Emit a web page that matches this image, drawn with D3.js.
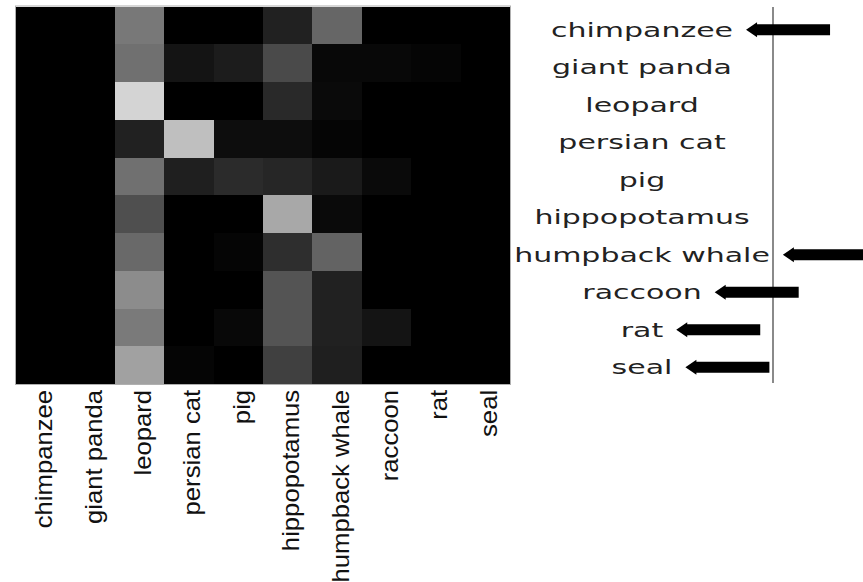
<!DOCTYPE html>
<html>
<head>
<meta charset="utf-8">
<script src="https://cdn.jsdelivr.net/npm/d3@7"></script>
<style>
  html, body { margin: 0; padding: 0; background: #fff; }
  svg { display: block; }
</style>
</head>
<body>
<svg id="chart" width="863" height="582"></svg>
<script>
// Class names, used for both the predicted (rows) and true (columns) axes
const categories = ["chimpanzee", "giant panda", "leopard", "persian cat", "pig",
                    "hippopotamus", "humpback whale", "raccoon", "rat", "seal"];

// Confusion matrix, one row per class (fraction of predictions)
const rowChimpanzee    = [0, 0, 0.47, 0,    0,    0.13, 0.40, 0,    0,    0];
const rowGiantPanda    = [0, 0, 0.44, 0.08, 0.11, 0.29, 0.03, 0.03, 0.02, 0];
const rowLeopard       = [0, 0, 0.83, 0,    0,    0.16, 0.04, 0,    0,    0];
const rowPersianCat    = [0, 0, 0.13, 0.75, 0.05, 0.05, 0.02, 0,    0,    0];
const rowPig           = [0, 0, 0.44, 0.12, 0.17, 0.15, 0.10, 0.04, 0,    0];
const rowHippopotamus  = [0, 0, 0.31, 0,    0,    0.66, 0.04, 0,    0,    0];
const rowHumpbackWhale = [0, 0, 0.41, 0,    0.02, 0.18, 0.39, 0,    0,    0];
const rowRaccoon       = [0, 0, 0.55, 0,    0,    0.33, 0.13, 0,    0,    0];
const rowRat           = [0, 0, 0.48, 0,    0.03, 0.33, 0.13, 0.08, 0,    0];
const rowSeal          = [0, 0, 0.63, 0.02, 0,    0.25, 0.12, 0,    0,    0];

const matrixRows = [rowChimpanzee, rowGiantPanda, rowLeopard, rowPersianCat, rowPig,
                    rowHippopotamus, rowHumpbackWhale, rowRaccoon, rowRat, rowSeal];

// Classes highlighted with an arrow in the list on the right
const highlighted = ["chimpanzee", "humpback whale", "raccoon", "rat", "seal"];

const svg = d3.select("#chart");

// Heatmap geometry
const hm = { left: 16, top: 6.5, right: 510, bottom: 384 };

const x = d3.scaleBand().domain(categories).range([hm.left, hm.right]);
const y = d3.scaleBand().domain(categories).range([hm.top, hm.bottom]);
const color = d3.scaleLinear().domain([0, 1]).range(["#000000", "#ffffff"])
  .interpolate(d3.interpolateRgb);

const cells = [];
matrixRows.forEach((row, i) => row.forEach((v, j) => {
  cells.push({ row: categories[i], col: categories[j], value: v });
}));

svg.append("g")
  .selectAll("rect")
  .data(cells)
  .join("rect")
  .attr("x", d => x(d.col))
  .attr("y", d => y(d.row))
  .attr("width", x.bandwidth() + 0.5)
  .attr("height", y.bandwidth() + 0.5)
  .attr("fill", d => color(d.value))
  .attr("shape-rendering", "crispEdges");

// Thin grey frame round the heatmap
svg.append("rect")
  .attr("x", hm.left - 0.5)
  .attr("y", hm.top - 0.5)
  .attr("width", hm.right - hm.left + 1)
  .attr("height", hm.bottom - hm.top + 1)
  .attr("fill", "none")
  .attr("stroke", "#b0b0b0")
  .attr("stroke-width", 1);

// Column labels underneath, rotated to read bottom-to-top
const xAxis = d3.axisBottom(x).tickSize(0).tickPadding(0);
const gx = svg.append("g")
  .attr("transform", `translate(0, ${hm.bottom})`)
  .call(xAxis);
gx.select(".domain").remove();
gx.selectAll(".tick text")
  .attr("transform", "rotate(-90) scale(1.07, 1)")
  .attr("x", -5.5)
  .attr("y", 3)
  .attr("dy", "0.35em")
  .attr("text-anchor", "end")
  .attr("font-family", "'Liberation Sans', Arial, sans-serif")
  .attr("font-size", 24)
  .attr("fill", "#111");

// Class list on the right
const yList = d3.scaleBand().domain(categories).range([11, 386]);
const listCx = 642;
const stretch = 1.5;

const list = svg.append("g");
const labels = list.selectAll("text")
  .data(categories)
  .join("text")
  .attr("transform", d => `translate(${listCx}, ${yList(d) + yList.bandwidth() / 2}) scale(${stretch}, 1)`)
  .attr("text-anchor", "middle")
  .attr("dy", "0.35em")
  .attr("font-family", "'DejaVu Sans', Verdana, sans-serif")
  .attr("font-size", 20)
  .attr("fill", "#222")
  .text(d => d);

// Grey separator line
svg.append("line")
  .attr("x1", 773).attr("x2", 773)
  .attr("y1", 7).attr("y2", 383)
  .attr("stroke", "#8a8a8a")
  .attr("stroke-width", 2);

// Arrows pointing at the highlighted class names
const arrowLen = 84;
const headLen = 11;
const headHalf = 7.5;
const shaftHalf = 5.5;
labels.each(function(d) {
  if (!highlighted.includes(d)) return;
  const bb = this.getBBox();
  const textEnd = listCx + (bb.x + bb.width) * stretch;
  const tip = textEnd + 13;
  const cy = yList(d) + yList.bandwidth() / 2;
  const p = [
    [tip, cy],
    [tip + headLen, cy - headHalf],
    [tip + headLen, cy - shaftHalf],
    [tip + arrowLen, cy - shaftHalf],
    [tip + arrowLen, cy + shaftHalf],
    [tip + headLen, cy + shaftHalf],
    [tip + headLen, cy + headHalf]
  ];
  svg.append("path")
    .attr("d", d3.line()(p) + "Z")
    .attr("fill", "#000");
});
</script>
</body>
</html>
